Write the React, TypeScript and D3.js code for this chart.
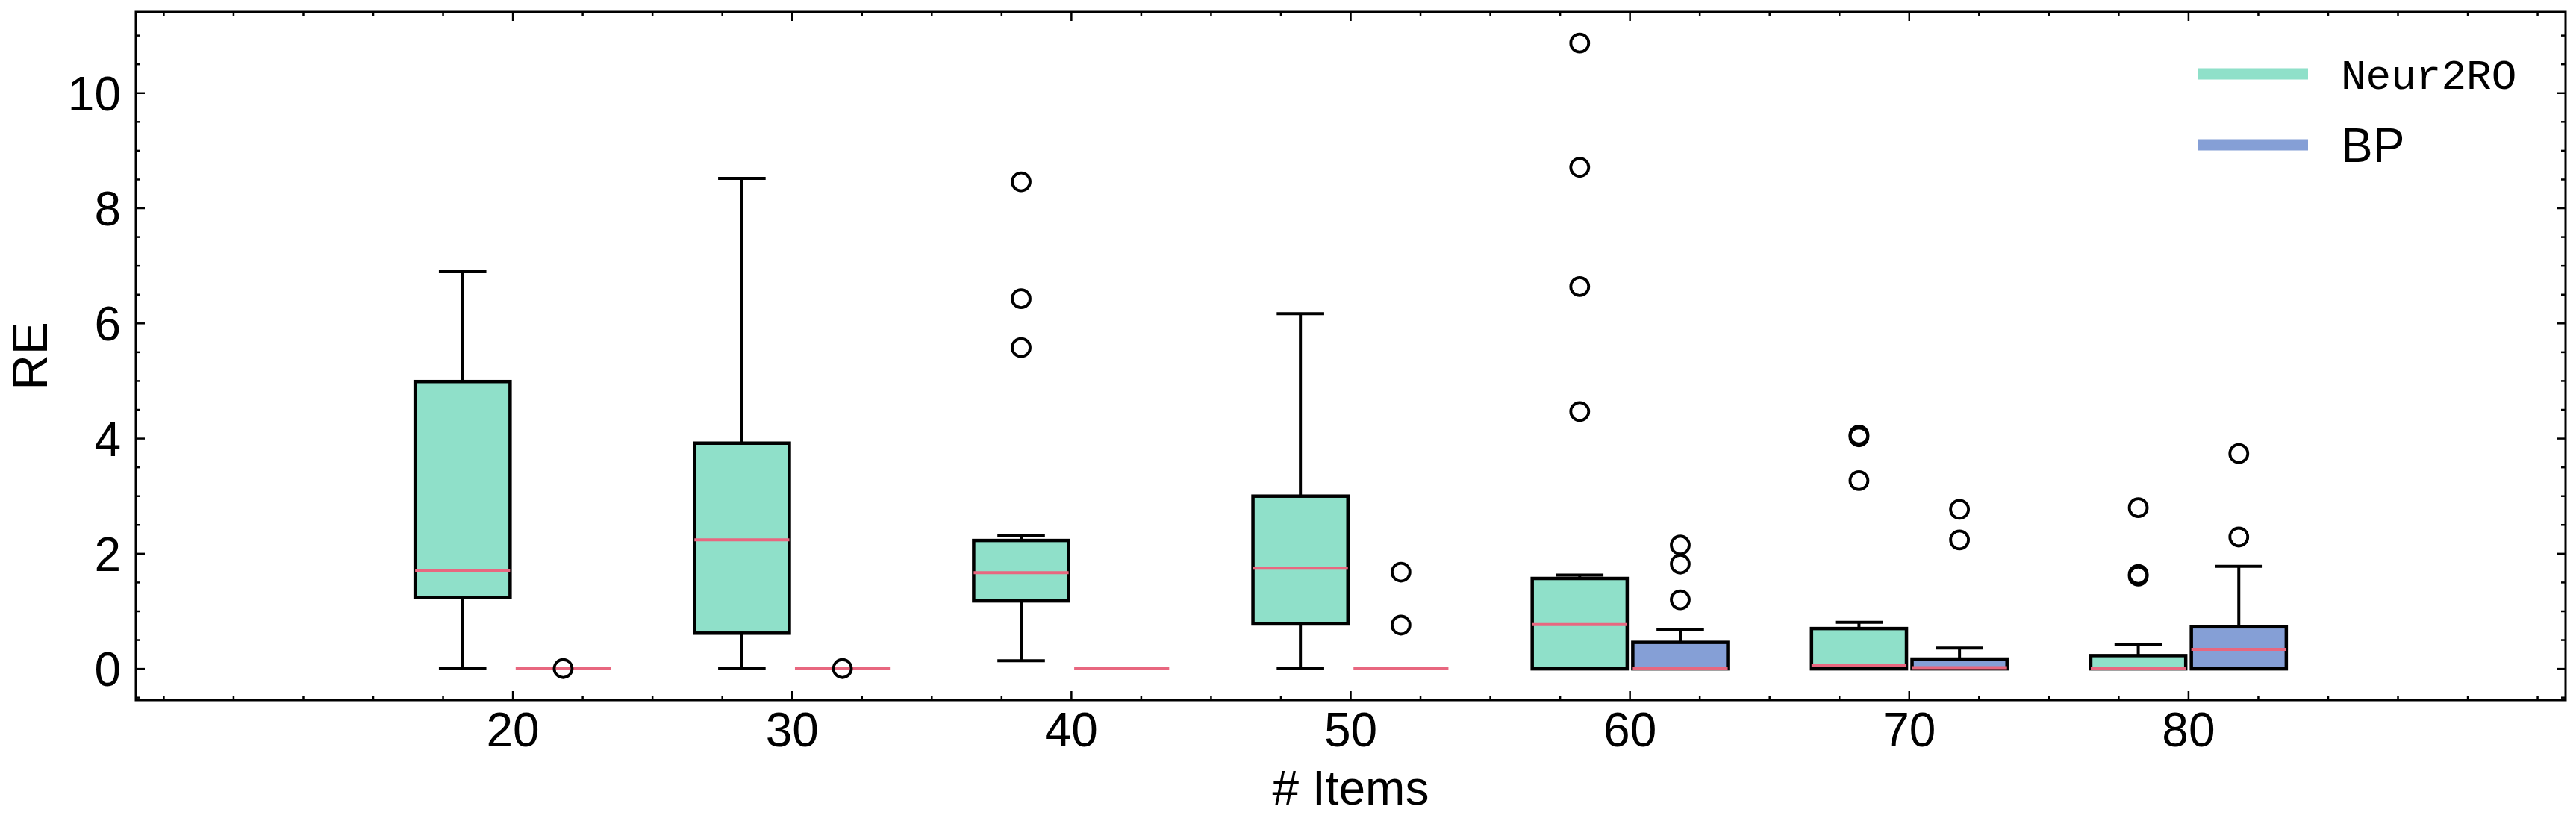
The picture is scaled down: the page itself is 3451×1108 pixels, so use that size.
import React from "react";
import * as d3 from "d3";

// number of items on the x axis
const items = [20, 30, 40, 50, 60, 70, 80];

// Neur2RO box stats
const neurLow = [0, 0, 0.14, 0, 0, 0, 0];
const neurQ1 = [1.24, 0.62, 1.18, 0.78, 0, 0, 0];
const neurMedian = [1.7, 2.24, 1.67, 1.75, 0.77, 0.06, 0];
const neurQ3 = [4.99, 3.92, 2.23, 3.0, 1.57, 0.7, 0.23];
const neurHigh = [6.9, 8.52, 2.31, 6.17, 1.63, 0.81, 0.43];
const neurFliers = [[], [], [5.58, 6.43, 8.46], [], [4.47, 6.64, 8.71, 10.87], [3.27, 4.03, 4.06], [1.61, 1.64, 2.8]];

// BP box stats
const bpLow = [0, 0, 0, 0, 0, 0, 0];
const bpQ1 = [0, 0, 0, 0, 0, 0, 0];
const bpMedian = [0, 0, 0, 0, 0, 0.02, 0.34];
const bpQ3 = [0, 0, 0, 0, 0.46, 0.17, 0.73];
const bpHigh = [0, 0, 0, 0, 0.68, 0.36, 1.78];
const bpFliers = [[0.005], [0.005], [], [0.76, 1.68], [1.2, 1.82, 2.15], [2.24, 2.77], [2.29, 3.74]];

const seriesNames = ["Neur2RO", "BP"];
const seriesColors = ["#8FE0C9", "#859FD6"];
const medianColor = "#E8677F";

const W = 3451;
const H = 1108;
const margin = { left: 182, right: 14, top: 16, bottom: 170 };
const offset = 1.8;
const boxWidth = 3.4;

const sans = "'Liberation Sans', Arial, Helvetica, sans-serif";

function Box({ x, lo, q1, med, q3, hi, fliers, color, xs, ys }) {
  const x0 = xs(x - boxWidth / 2);
  const x1 = xs(x + boxWidth / 2);
  const cx = xs(x);
  const capHalf = (xs(boxWidth / 4) - xs(0));
  return (
    <g>
      <rect x={x0} y={ys(q3)} width={x1 - x0} height={Math.max(0, ys(q1) - ys(q3))}
        fill={color} stroke="#000" strokeWidth={4.5} />
      <line x1={cx} x2={cx} y1={ys(q3)} y2={ys(hi)} stroke="#000" strokeWidth={4} />
      <line x1={cx} x2={cx} y1={ys(q1)} y2={ys(lo)} stroke="#000" strokeWidth={4} />
      <line x1={cx - capHalf} x2={cx + capHalf} y1={ys(hi)} y2={ys(hi)} stroke="#000" strokeWidth={4} />
      <line x1={cx - capHalf} x2={cx + capHalf} y1={ys(lo)} y2={ys(lo)} stroke="#000" strokeWidth={4} />
      <line x1={x0} x2={x1} y1={ys(med)} y2={ys(med)} stroke={medianColor} strokeWidth={4} />
      {fliers.map((f, i) => (
        <circle key={i} cx={cx} cy={ys(f)} r={12} fill="none" stroke="#000" strokeWidth={3.8} />
      ))}
    </g>
  );
}

export default function App() {
  const xs = d3.scaleLinear().domain([6.5, 93.5]).range([margin.left, W - margin.right]);
  const ys = d3.scaleLinear().domain([-0.543, 11.41]).range([H - margin.bottom, margin.top]);
  const [left, right] = xs.range();
  const [bottom, top] = ys.range();

  const yMajor = ys.ticks(6).filter((t) => t >= 0);
  const yMinor = d3.range(-0.5, 11.41, 0.5).filter((t) => !yMajor.includes(t));
  const xMinor = d3.range(7.5, 93.5, 2.5).filter((t) => !items.includes(t));

  const neurStats = items.map((d, i) => ({ x: d - offset, lo: neurLow[i], q1: neurQ1[i], med: neurMedian[i], q3: neurQ3[i], hi: neurHigh[i], fliers: neurFliers[i] }));
  const bpStats = items.map((d, i) => ({ x: d + offset, lo: bpLow[i], q1: bpQ1[i], med: bpMedian[i], q3: bpQ3[i], hi: bpHigh[i], fliers: bpFliers[i] }));

  return (
    <svg width={W} height={H} style={{ position: "absolute", left: 0, top: 0, background: "#fff" }}>
      {neurStats.map((s, i) => (
        <Box key={"n" + i} {...s} color={seriesColors[0]} xs={xs} ys={ys} />
      ))}
      {bpStats.map((s, i) => (
        <Box key={"b" + i} {...s} color={seriesColors[1]} xs={xs} ys={ys} />
      ))}

      {/* ticks, inward on all four sides */}
      <g stroke="#000" strokeWidth={2.5}>
        {yMajor.map((t) => (
          <g key={"ym" + t}>
            <line x1={left} x2={left + 12} y1={ys(t)} y2={ys(t)} />
            <line x1={right} x2={right - 12} y1={ys(t)} y2={ys(t)} />
          </g>
        ))}
        {yMinor.map((t) => (
          <g key={"yn" + t}>
            <line x1={left} x2={left + 6} y1={ys(t)} y2={ys(t)} />
            <line x1={right} x2={right - 6} y1={ys(t)} y2={ys(t)} />
          </g>
        ))}
        {items.map((t) => (
          <g key={"xm" + t}>
            <line x1={xs(t)} x2={xs(t)} y1={bottom} y2={bottom - 12} />
            <line x1={xs(t)} x2={xs(t)} y1={top} y2={top + 12} />
          </g>
        ))}
        {xMinor.map((t) => (
          <g key={"xn" + t}>
            <line x1={xs(t)} x2={xs(t)} y1={bottom} y2={bottom - 6} />
            <line x1={xs(t)} x2={xs(t)} y1={top} y2={top + 6} />
          </g>
        ))}
      </g>
      <rect x={left} y={top} width={right - left} height={bottom - top} fill="none" stroke="#000" strokeWidth={3} />

      <g fontFamily={sans} fontSize={64} fill="#000">
        {yMajor.map((t) => (
          <text key={t} x={left - 20} y={ys(t)} dy="0.36em" textAnchor="end">{t}</text>
        ))}
        {items.map((t) => (
          <text key={t} x={xs(t)} y={bottom + 62} textAnchor="middle">{t}</text>
        ))}
        <text x={(left + right) / 2} y={1078} textAnchor="middle">
          # Items
        </text>
        <text transform={`translate(63, ${(top + bottom) / 2}) rotate(-90)`} textAnchor="middle" fontSize={66}>
          RE
        </text>
      </g>

      {/* legend */}
      <g>
        {seriesNames.map((name, i) => (
          <g key={name} transform={`translate(2944, ${99 + i * 95})`}>
            <line x1={0} x2={148} y1={0} y2={0} stroke={seriesColors[i]} strokeWidth={15} />
            <text x={192} y={0} dy="0.36em"
              fontFamily={i === 0 ? "'Liberation Mono', 'DejaVu Sans Mono', monospace" : sans}
              fontSize={i === 0 ? 56 : 64}>
              {name}
            </text>
          </g>
        ))}
      </g>
    </svg>
  );
}
